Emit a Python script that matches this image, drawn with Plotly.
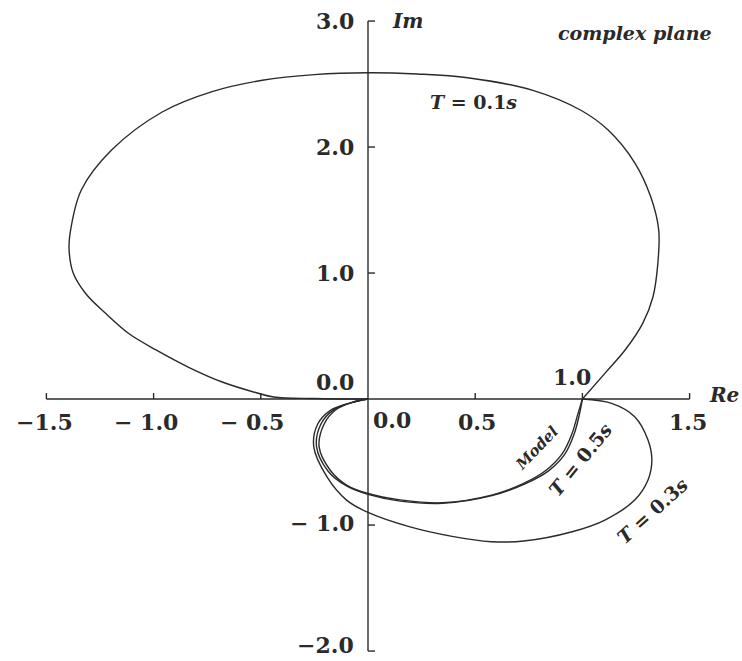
import plotly.graph_objects as go

# Frequency-response loci in the complex plane (Re, Im), traced from w=0 at 1+0j to the origin
t01_re = [1.0, 1.106, 1.199, 1.282, 1.329, 1.352, 1.356, 1.319, 1.245, 1.12, 0.995, 0.769,
          0.465, 0.23, 0.0, -0.25, -0.493, -0.727, -0.96, -1.196, -1.337, -1.389, -1.394,
          -1.375, -1.318, -1.224, -1.116, -0.989, -0.834, -0.68, -0.521, -0.44, -0.25, 0.0]
t01_im = [0.0, 0.206, 0.389, 0.603, 0.81, 1.079, 1.341, 1.603, 1.873, 2.135, 2.29, 2.45,
          2.55, 2.58, 2.59, 2.575, 2.53, 2.44, 2.278, 1.976, 1.659, 1.32, 1.18,
          1.0, 0.84, 0.68, 0.52, 0.39, 0.25, 0.135, 0.05, 0.016, 0.004, 0.0]

t03_re = [1.0, 1.136, 1.244, 1.306, 1.324, 1.306, 1.244, 1.105, 0.952, 0.726, 0.575, 0.392,
          0.192, 0.0, -0.10, -0.192, -0.253, -0.235, -0.175, -0.08, 0.0]
t03_im = [0.0, -0.034, -0.14, -0.325, -0.484, -0.643, -0.802, -0.96, -1.053, -1.127, -1.132,
          -1.09, -1.013, -0.90, -0.802, -0.616, -0.378, -0.2, -0.09, -0.03, 0.0]

t05_re = [1.0, 0.985, 0.962, 0.918, 0.842, 0.73, 0.578, 0.346, 0.15, 0.0, -0.1, -0.185,
          -0.24, -0.22, -0.162, -0.075, 0.0]
t05_im = [0.0, -0.13, -0.275, -0.437, -0.57, -0.675, -0.767, -0.828, -0.81, -0.757, -0.69,
          -0.575, -0.378, -0.2, -0.088, -0.027, 0.0]

model_re = [1.0, 0.977, 0.952, 0.907, 0.832, 0.726, 0.576, 0.346, 0.15, 0.0, -0.1, -0.177,
            -0.228, -0.205, -0.15, -0.07, 0.0]
model_im = [0.0, -0.13, -0.272, -0.431, -0.563, -0.669, -0.762, -0.823, -0.80, -0.75, -0.683,
            -0.563, -0.378, -0.2, -0.085, -0.025, 0.0]

x_ticks = [-1.5, -1.0, -0.5, 0.0, 0.5, 1.0, 1.5]
x_tick_text = ["\u22121.5", "\u2212 1.0", "\u2212 0.5", "0.0", "0.5", "1.0", "1.5"]
y_ticks = [3.0, 2.0, 1.0, 0.0, -1.0, -2.0]
y_tick_text = ["3.0", "2.0", "1.0", "0.0", "\u2212 1.0", "\u22122.0"]

INK = "#2a2a2a"
SERIF = "DejaVu Serif"

fig = go.Figure()
for re, im in [(t01_re, t01_im), (t03_re, t03_im), (t05_re, t05_im), (model_re, model_im)]:
    fig.add_trace(go.Scatter(x=re, y=im, mode="lines",
                             line=dict(color=INK, width=1.4, shape="spline", smoothing=1.0),
                             hoverinfo="skip", showlegend=False))

# axes drawn through the origin, with short inward ticks
shapes = [
    dict(type="line", xref="x", yref="y", x0=x_ticks[0], x1=x_ticks[-1], y0=0, y1=0,
         line=dict(color=INK, width=1.4)),
    dict(type="line", xref="x", yref="y", x0=0, x1=0, y0=y_ticks[-1], y1=y_ticks[0],
         line=dict(color=INK, width=1.4)),
]
for xv in x_ticks:
    if xv == 0.0:
        continue
    shapes.append(dict(type="line", xref="x", yref="y", ysizemode="pixel", yanchor=0,
                       x0=xv, x1=xv, y0=0, y1=6, line=dict(color=INK, width=1.4)))
for yv in y_ticks:
    if yv == 0.0:
        continue
    shapes.append(dict(type="line", xref="x", yref="y", xsizemode="pixel", xanchor=0,
                       x0=0, x1=7, y0=yv, y1=yv, line=dict(color=INK, width=1.4)))

tick_font = dict(family=SERIF, size=22, color=INK)
annotations = []
# x tick labels sit below the axis, except the origin (right of the Im axis) and 1.0 (above)
x_offsets = {-1.5: (-2, -23), -1.0: (-8, -23), -0.5: (-9, -23), 0.0: (24, -21),
             0.5: (2, -23), 1.0: (-10, 22), 1.5: (-2, -23)}
for xv, txt in zip(x_ticks, x_tick_text):
    dx, dy = x_offsets[xv]
    annotations.append(dict(x=xv, y=0, xref="x", yref="y", text="<b>%s</b>" % txt,
                            showarrow=False, xshift=dx, yshift=dy, font=tick_font))
y_offsets = {3.0: 0, 2.0: 0, 1.0: 0, 0.0: 17, -1.0: 2, -2.0: 6}
for yv, txt in zip(y_ticks, y_tick_text):
    annotations.append(dict(x=0, y=yv, xref="x", yref="y", text="<b>%s</b>" % txt,
                            showarrow=False, xanchor="right", xshift=-12,
                            yshift=y_offsets[yv], font=tick_font))

ital = dict(family=SERIF, size=20, color=INK)
curve_label = dict(family=SERIF, size=19, color=INK)
annotations += [
    dict(x=0, y=3.0, xref="x", yref="y", text="<b><i>Im</i></b>", showarrow=False,
         xanchor="left", xshift=22, font=ital),
    dict(x=1.5, y=0, xref="x", yref="y", text="<b><i>Re</i></b>", showarrow=False,
         xanchor="left", xshift=17, yshift=4, font=ital),
    dict(x=1.245, y=2.905, xref="x", yref="y", text="<b><i>complex plane</i></b>",
         showarrow=False, font=dict(family=SERIF, size=19, color=INK)),
    dict(x=0.494, y=2.357, xref="x", yref="y", text="<b><i>T</i> = 0.1<i>s</i></b>",
         showarrow=False, font=curve_label),
    dict(x=0.788, y=-0.389, xref="x", yref="y", text="<b><i>Model</i></b>", textangle=-46,
         showarrow=False, font=dict(family=SERIF, size=15, color=INK)),
    dict(x=0.989, y=-0.484, xref="x", yref="y", text="<b><i>T</i> = 0.5<i>s</i></b>",
         textangle=-51, showarrow=False, font=curve_label),
    dict(x=1.325, y=-0.889, xref="x", yref="y", text="<b><i>T</i> = 0.3<i>s</i></b>",
         textangle=-42, showarrow=False, font=curve_label),
]

fig.update_layout(
    width=742, height=661,
    margin=dict(l=0, r=0, t=0, b=0),
    paper_bgcolor="white", plot_bgcolor="white",
    xaxis=dict(range=[-1.7164, 1.7444], visible=False, fixedrange=True),
    yaxis=dict(range=[-2.079, 3.167], visible=False, fixedrange=True),
    shapes=shapes, annotations=annotations,
)

fig.write_html("out.html")
